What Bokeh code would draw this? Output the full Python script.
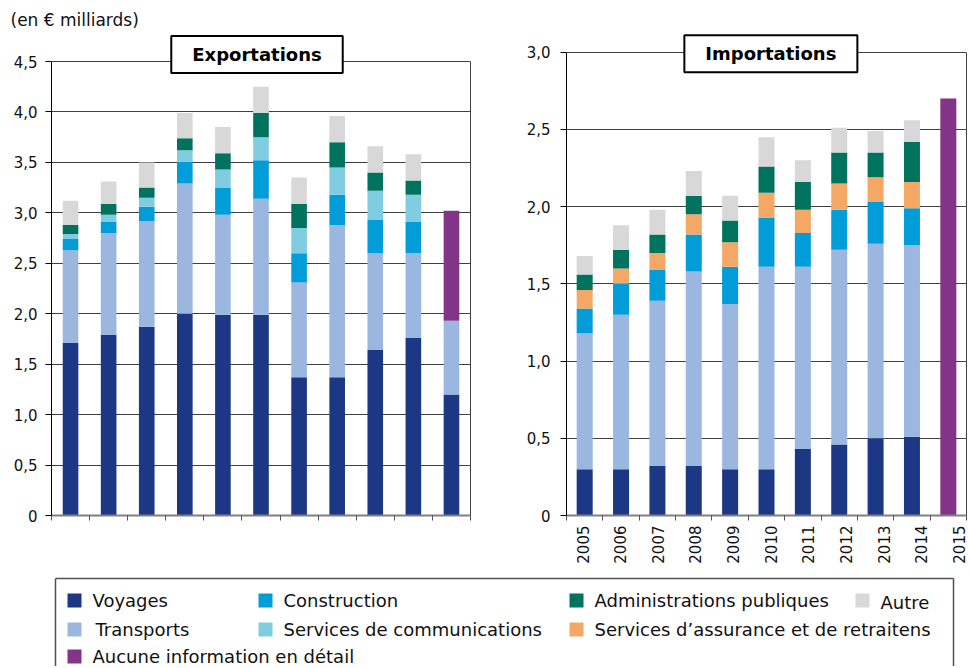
from math import pi
from bokeh.plotting import figure
from bokeh.layouts import column, row
from bokeh.models import Range1d, FixedTicker, CustomJSTickFormatter, Label, ColumnDataSource, LinearAxis
from bokeh.embed import file_html
from bokeh.resources import INLINE
from bokeh.core.properties import value

# ---------------- data ----------------
years = ["2005", "2006", "2007", "2008", "2009", "2010", "2011", "2012", "2013", "2014", "2015"]

exp_voyages        = [1.71, 1.79, 1.87, 2.00, 1.99, 1.99, 1.37, 1.37, 1.64, 1.76, 1.20]
exp_transports     = [0.92, 1.01, 1.05, 1.29, 0.99, 1.15, 0.94, 1.51, 0.96, 0.84, 0.73]
exp_construction   = [0.11, 0.11, 0.14, 0.22, 0.27, 0.38, 0.29, 0.30, 0.33, 0.31, 0.00]
exp_communications = [0.05, 0.07, 0.09, 0.11, 0.18, 0.23, 0.25, 0.27, 0.29, 0.27, 0.00]
exp_admin          = [0.09, 0.11, 0.10, 0.12, 0.16, 0.24, 0.24, 0.25, 0.18, 0.14, 0.00]
exp_autre          = [0.24, 0.22, 0.25, 0.25, 0.26, 0.26, 0.26, 0.26, 0.26, 0.26, 0.00]
exp_aucune         = [0, 0, 0, 0, 0, 0, 0, 0, 0, 0, 1.09]

imp_voyages      = [0.30, 0.30, 0.32, 0.32, 0.30, 0.30, 0.43, 0.46, 0.50, 0.51, 0.00]
imp_transports   = [0.88, 1.00, 1.07, 1.26, 1.07, 1.31, 1.18, 1.26, 1.26, 1.24, 0.00]
imp_construction = [0.16, 0.20, 0.20, 0.24, 0.24, 0.32, 0.22, 0.26, 0.27, 0.24, 0.00]
imp_assurance    = [0.12, 0.10, 0.11, 0.13, 0.16, 0.16, 0.15, 0.17, 0.16, 0.17, 0.00]
imp_admin        = [0.10, 0.12, 0.12, 0.12, 0.14, 0.17, 0.18, 0.20, 0.16, 0.26, 0.00]
imp_autre        = [0.12, 0.16, 0.16, 0.16, 0.16, 0.19, 0.14, 0.16, 0.14, 0.14, 0.00]
imp_aucune       = [0, 0, 0, 0, 0, 0, 0, 0, 0, 0, 2.70]

exp_ticks = [0, 0.5, 1.0, 1.5, 2.0, 2.5, 3.0, 3.5, 4.0, 4.5]
imp_ticks = [0, 0.5, 1.0, 1.5, 2.0, 2.5, 3.0]

unit_label = "(en € milliards)"
exp_title = "Exportations"
imp_title = "Importations"

series_names = {
    "voyages": "Voyages",
    "transports": "Transports",
    "construction": "Construction",
    "communications": "Services de communications",
    "assurance": "Services d\u2019assurance et de retraitens",
    "admin": "Administrations publiques",
    "autre": "Autre",
    "aucune": "Aucune information en détail",
}
colors = {
    "voyages": "#1c3885",
    "transports": "#9bb7df",
    "construction": "#009dd9",
    "communications": "#80cce0",
    "assurance": "#f5a766",
    "admin": "#00735e",
    "autre": "#d8d8d8",
    "aucune": "#823586",
}

FONT = "DejaVu Sans"
GRID = "#404040"
TXT = "#111111"
FRAME_H = 485

fmt_code = "return tick == 0 ? '0' : tick.toFixed(1).replace('.', ',');"


def base_fig(frame_w, ticks, px_per_unit, bl, br, standoff):
    top_tick = ticks[-1]
    ymax = FRAME_H / px_per_unit
    p = figure(frame_width=frame_w, frame_height=FRAME_H, x_range=Range1d(0, len(years)),
               y_range=Range1d(0, ymax), output_backend="svg", toolbar_location=None,
               min_border_left=bl, min_border_right=br, min_border_top=30, min_border_bottom=55)
    p.background_fill_color = "white"
    p.border_fill_color = "white"
    p.outline_line_color = None
    p.xgrid.visible = False
    p.ygrid.ticker = FixedTicker(ticks=ticks)
    p.ygrid.grid_line_color = GRID
    p.ygrid.grid_line_width = 1
    ya = p.yaxis[0]
    ya.bounds = (0, top_tick)
    ya.ticker = FixedTicker(ticks=ticks)
    ya.formatter = CustomJSTickFormatter(code=fmt_code)
    ya.axis_line_color = "black"
    ya.major_tick_line_color = "black"
    ya.major_tick_out = 6
    ya.major_tick_in = 0
    ya.minor_tick_line_color = None
    ya.major_label_text_font = FONT
    ya.major_label_text_font_size = "15px"
    ya.major_label_text_color = TXT
    ya.major_label_standoff = standoff
    # right border of the plot area
    ra = LinearAxis(bounds=(0, top_tick), ticker=FixedTicker(ticks=[]),
                    axis_line_color=GRID, axis_line_width=1,
                    major_tick_line_color=None, minor_tick_line_color=None,
                    major_label_text_font_size="0px", major_label_standoff=0,
                    major_tick_out=0, major_tick_in=0)
    p.add_layout(ra, "right")
    xa = p.xaxis[0]
    xa.axis_line_color = "#808080"
    xa.axis_line_width = 2
    xa.minor_tick_line_color = "#505050"
    xa.minor_tick_out = 5
    xa.minor_tick_in = 0
    xa.major_tick_in = 0
    xa.major_tick_out = 0
    xa.major_tick_line_color = None
    xa.major_label_text_font = FONT
    xa.major_label_text_font_size = "15px"
    xa.major_label_text_color = TXT
    return p


def title_box(text, x, y):
    return Label(x=x, y=y, text=text, text_align="center", text_baseline="middle",
                 text_font=FONT, text_font_style="bold", text_font_size="18px",
                 text_color="black", background_fill_color="white",
                 border_line_color="black", border_line_width=2, padding=(21, 8))


centers = [i + 0.5 for i in range(len(years))]
bounds = list(range(len(years) + 1))
# the year labels of the original drift slightly right of the bar centres
label_pos = [0.44 + i * 1.035 for i in range(len(years))]

# ---------------- exports ----------------
exp_src = ColumnDataSource(dict(x=centers, voyages=exp_voyages, transports=exp_transports,
                                construction=exp_construction, communications=exp_communications,
                                admin=exp_admin, autre=exp_autre, aucune=exp_aucune))
pe = base_fig(419, exp_ticks, 454 / 4.5, 51, 10, 8)
exp_keys = ["voyages", "transports", "construction", "communications", "admin", "autre", "aucune"]
pe.vbar_stack(exp_keys, x="x", width=0.41, fill_color=[colors[k] for k in exp_keys],
              line_color=None, source=exp_src)
pe.xaxis[0].ticker = FixedTicker(ticks=[], minor_ticks=bounds)
pe.xaxis[0].major_label_text_font_size = "0px"
pe.title.text = unit_label
pe.title.align = "left"
pe.title.offset = -41
pe.title.standoff = 2
pe.title.text_font = FONT
pe.title.text_font_style = "normal"
pe.title.text_font_size = "17px"
pe.title.text_color = TXT
pe.add_layout(title_box(exp_title, 5.395, 4.569))

# ---------------- imports ----------------
imp_src = ColumnDataSource(dict(x=centers, voyages=imp_voyages, transports=imp_transports,
                                construction=imp_construction, assurance=imp_assurance,
                                admin=imp_admin, autre=imp_autre, aucune=imp_aucune))
pi_ = base_fig(400, imp_ticks, 463.3 / 3.0, 86, 2, 10)
imp_keys = ["voyages", "transports", "construction", "assurance", "admin", "autre", "aucune"]
pi_.vbar_stack(imp_keys, x="x", width=0.44, fill_color=[colors[k] for k in imp_keys],
               line_color=None, source=imp_src)
pi_.xaxis[0].ticker = FixedTicker(ticks=label_pos, minor_ticks=bounds)
pi_.xaxis[0].formatter = CustomJSTickFormatter(args=dict(years=years),
                                               code="return years[index];")
pi_.xaxis[0].major_label_orientation = pi / 2
pi_.xaxis[0].major_label_standoff = 5
pi_.add_layout(title_box(imp_title, 5.62, 2.99))

# ---------------- legend ----------------
LW, LH = 968, 96
pl = figure(width=LW, height=LH, x_range=Range1d(0, LW), y_range=Range1d(LH, 0),
            output_backend="svg", toolbar_location=None, min_border=0)
pl.axis.visible = False
pl.grid.visible = False
pl.outline_line_color = None
pl.background_fill_color = "white"
pl.border_fill_color = "white"
pl.segment(x0=[55, 55, 953], y0=[LH + 2, 8, 8], x1=[55, 953, 953], y1=[8, 8, LH + 2],
           line_color="#505050", line_width=1.5)

legend_order = ["voyages", "construction", "admin", "autre",
                "transports", "communications", "assurance", "aucune"]
legend_col = [0, 1, 2, 3, 0, 1, 2, 0]
legend_row = [0, 0, 0, 0, 1, 1, 1, 2]
col_x = [74, 265, 576, 862]
row_y = [30, 59, 86]
sq_x = [col_x[c] for c in legend_col]
sq_y = [row_y[r] for r in legend_row]
tx_x = [x + (21 if k == "transports" else 18) for x, k in zip(sq_x, legend_order)]
tx_y = [y + (2 if k == "autre" else 0) for y, k in zip(sq_y, legend_order)]
pl.rect(x=sq_x, y=sq_y, width=14, height=14, fill_color=[colors[k] for k in legend_order],
        line_color=None)
pl.text(x=tx_x, y=tx_y, text=[series_names[k] for k in legend_order],
        text_font=value(FONT), text_font_size="18px", text_align="left",
        text_baseline="middle", text_color=TXT)

layout = column(row(pe, pi_), pl)
open("out.html", "w").write(file_html(layout, INLINE))
